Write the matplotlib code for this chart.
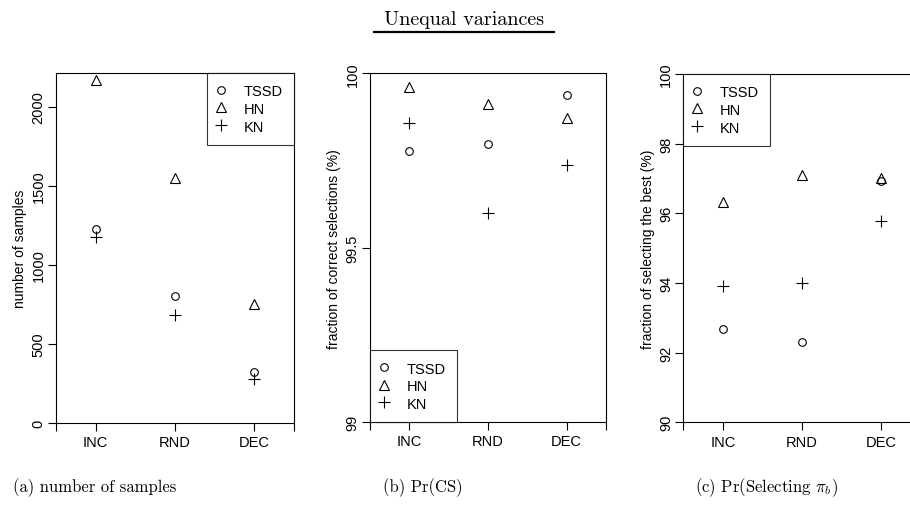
import matplotlib
matplotlib.use("Agg")
import matplotlib.pyplot as plt
from matplotlib.lines import Line2D

plt.rcParams['font.family'] = ['Liberation Sans', 'DejaVu Sans']
plt.rcParams['mathtext.fontset'] = 'cm'

orders = ['INC', 'RND', 'DEC']
methods = ['TSSD', 'HN', 'KN']

# (a) number of samples
samples_tssd = [1228, 801, 324]
samples_hn = [2173, 1553, 755]
samples_kn = [1175, 685, 277]

# (b) Pr(CS) in %
pcs_tssd = [99.778, 99.797, 99.939]
pcs_hn = [99.962, 99.912, 99.872]
pcs_kn = [99.858, 99.599, 99.738]

# (c) Pr(selecting the best) in %
pbest_tssd = [92.68, 92.30, 96.94]
pbest_hn = [96.32, 97.11, 97.01]
pbest_kn = [93.91, 93.99, 95.79]

W, H = 910, 510
fig = plt.figure(figsize=(W / 100, H / 100), dpi=100)


def box(l, r, t, b):
    return [l / W, (H - b) / H, (r - l) / W, (b - t) / H]


def panel(rect, tssd, hn, kn, ylim, yticks, ylabel, legloc, anchor):
    ax = fig.add_axes(rect)
    x = [1, 2, 3]
    ax.plot(x, tssd, linestyle='none', marker='o', ms=5.5, mfc='none', mec='black', mew=0.8, label=methods[0])
    ax.plot(x, hn, linestyle='none', marker='^', ms=7, mfc='none', mec='black', mew=0.8, label=methods[1])
    ax.plot(x, kn, linestyle='none', marker='+', ms=8, mec='black', mew=0.8, label=methods[2])
    ax.set_xlim(0.5, 3.5)
    ax.set_ylim(*ylim)
    ax.set_xticks([0.5, 1, 2, 3, 3.5])
    ax.set_xticklabels([''] + orders + [''])
    ax.set_yticks(yticks)
    ax.set_yticklabels([('%g' % v) for v in yticks], rotation=90, va='center')
    ax.tick_params(direction='out', length=6, width=0.8, labelsize=10.5, colors='black')
    ax.tick_params(axis='y', pad=1.5)
    ax.tick_params(axis='x', pad=3)
    for s in ax.spines.values():
        s.set_linewidth(0.8)
        s.set_color('black')
    ax.set_ylabel(ylabel, fontsize=10, labelpad=3)
    leg = ax.legend(loc=legloc, bbox_to_anchor=anchor, frameon=True, fancybox=False,
                    edgecolor='black', fontsize=10.5, handlelength=0.4, handleheight=1.0,
                    handletextpad=1.35, labelspacing=0.22, borderpad=0.75, borderaxespad=0)
    leg.get_frame().set_linewidth(0.8)
    return ax


panel(box(56, 294, 74, 424), samples_tssd, samples_hn, samples_kn, (0, 2215),
      [0, 500, 1000, 1500, 2000], 'number of samples', 'upper right', (1, 1))
panel(box(370, 606, 74.3, 423), pcs_tssd, pcs_hn, pcs_kn, (99, 100),
      [99, 99.5, 100], 'fraction of correct selections (%)', 'lower left', (0, 0))
panel(box(683.3, 921, 75, 423.3), pbest_tssd, pbest_hn, pbest_kn, (90, 100),
      [90, 92, 94, 96, 98, 100], 'fraction of selecting the best (%)', 'upper left', (0, 1))

serif = ['cmr10', 'DejaVu Serif']
fig.text(464 / W, 1 - 20 / H, 'Unequal variances', ha='center', va='center', fontsize=14.5, family=serif)
fig.add_artist(Line2D([374 / W, 554 / W], [1 - 33 / H, 1 - 33 / H], color='black', lw=1.6))

fig.text(95 / W, 1 - 488 / H, '(a) number of samples', ha='center', va='center', fontsize=12, family=serif)
fig.text(423 / W, 1 - 488 / H, '(b) Pr(CS)', ha='center', va='center', fontsize=12, family=serif)
fig.text(766 / W, 1 - 488 / H, r'(c) Pr(Selecting $\pi_b$)', ha='center', va='center', fontsize=12, family=serif)

fig.savefig('out.png', dpi=100)
